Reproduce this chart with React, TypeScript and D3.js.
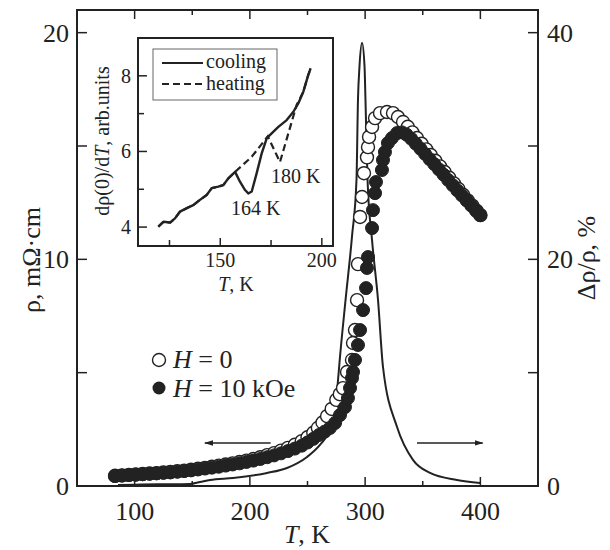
import React from "react";
import * as d3 from "d3";

const W = 610;
const H = 550;
const FONT = "'Liberation Serif', 'Times New Roman', serif";

// rho(T), H = 0 (open circles), [T, rho]
const openPts = [
  [83, 0.45], [89, 0.47], [95, 0.49], [101, 0.51], [107, 0.53], [113, 0.55], [119, 0.57],
  [125, 0.6], [131, 0.62], [137, 0.65], [143, 0.68], [149, 0.72], [155, 0.76], [161, 0.8],
  [167, 0.85], [173, 0.9], [179, 0.95], [185, 1.0], [191, 1.06], [197, 1.12], [203, 1.19],
  [209, 1.27], [215, 1.36], [221, 1.45], [227, 1.56], [233, 1.68], [239, 1.82], [245, 1.98],
  [250, 2.15], [255, 2.35], [259, 2.56], [263, 2.8], [267, 3.08], [271, 3.4], [275, 3.8],
  [278, 4.05], [280.8, 4.32], [284.3, 5.03], [288.6, 5.56], [289.5, 6.31], [291.2, 6.88],
  [293, 8.2], [293.8, 9.79], [295.6, 11.87], [297.3, 12.75], [299, 13.8], [301.6, 14.5],
  [302.5, 14.95], [303.4, 15.4], [306, 15.84], [308.6, 16.23], [312.9, 16.45], [319, 16.5],
  [324.2, 16.45], [328.5, 16.28], [332.9, 16.06], [337, 15.85], [341, 15.6], [345, 15.35],
  [349, 15.1], [353, 14.85], [357, 14.6], [361, 14.35], [365, 14.1], [369, 13.85], [373, 13.6],
  [377, 13.35], [381, 13.1], [385, 12.85], [389, 12.6], [393, 12.37], [397, 12.13], [400, 11.95],
];

// rho(T), H = 10 kOe (filled circles)
const filledPts = [
  [83, 0.44], [89, 0.46], [95, 0.48], [101, 0.5], [107, 0.52], [113, 0.54], [119, 0.56],
  [125, 0.58], [131, 0.6], [137, 0.63], [143, 0.66], [149, 0.69], [155, 0.73], [161, 0.77],
  [167, 0.81], [173, 0.85], [179, 0.9], [185, 0.95], [191, 1.0], [197, 1.06], [203, 1.12],
  [209, 1.19], [215, 1.27], [221, 1.35], [227, 1.44], [233, 1.54], [239, 1.65], [245, 1.78],
  [250, 1.92], [255, 2.08], [260, 2.25], [265, 2.4], [269.5, 2.56], [273.9, 2.78], [278.2, 3.13],
  [282.5, 3.48], [285.1, 3.88], [286.9, 4.32], [288.6, 4.76], [289.5, 5.03], [291.2, 5.56],
  [293.8, 6.22], [295.6, 6.88], [298.2, 7.76], [300.8, 8.73], [301.6, 9.62], [302.5, 10.1],
  [306, 11.38], [306.8, 12.17], [308.6, 12.92], [309.4, 13.41], [314.6, 13.94], [315.5, 14.38],
  [317.2, 14.73], [319.8, 15.13], [323.3, 15.35], [327.7, 15.57], [332, 15.6], [336, 15.5],
  [340, 15.32], [344, 15.1], [348, 14.88], [352, 14.65], [356, 14.42], [360, 14.2], [364, 13.97],
  [368, 13.74], [372, 13.5], [376, 13.27], [380, 13.04], [384, 12.82], [388, 12.6], [392, 12.38],
  [396, 12.16], [400, 11.95],
];

// magnetoresistance drho/rho, % (solid line, right axis)
const mrPts = [
  [85.6, 0.09], [100, 0.12], [120, 0.15], [148, 0.18], [156.7, 0.35], [165.4, 0.53],
  [185.4, 0.71], [214.9, 1.15], [232.2, 1.59], [249.6, 2.56], [260.8, 3.62], [269.5, 4.94],
  [273.9, 6.44], [276.5, 9.36], [278.2, 11.39], [283, 16.4], [288.6, 22], [292.5, 27],
  [293.8, 34.1], [295.1, 37], [297.3, 39.1], [299.5, 37], [300.3, 34.1], [302.1, 27],
  [306, 21.7], [311.2, 16.4], [315.5, 10.5], [327.7, 5.2], [341.5, 2.3], [356.3, 1.15],
  [379.7, 0.53], [399.7, 0.26],
];

// inset: d rho(0)/dT
const coolPts = [
  [119.5, 4.01], [122, 4.14], [125.3, 4.12], [127.7, 4.23], [130.2, 4.41], [133.5, 4.5],
  [136.7, 4.58], [140, 4.72], [143.3, 4.85], [145.8, 5.03], [149, 5.07], [151.5, 5.11],
  [154, 5.29], [157.3, 5.46], [159.7, 5.2], [162.2, 4.98], [163.8, 4.89], [165.5, 4.94],
  [167.9, 5.42], [170.4, 5.95], [172.9, 6.35], [175.3, 6.48], [178.6, 6.65], [182.7, 6.83],
  [186, 7.05], [188.4, 7.27], [190.9, 7.58], [193.3, 8.02], [194.5, 8.2],
];
const heatPts = [
  [119.5, 4.01], [122, 4.14], [125.3, 4.12], [127.7, 4.23], [130.2, 4.41], [133.5, 4.5],
  [136.7, 4.58], [140, 4.72], [143.3, 4.85], [145.8, 5.03], [149, 5.07], [151.5, 5.11],
  [154, 5.29], [157.3, 5.46], [165.5, 5.86], [173.4, 6.4], [179.4, 5.72], [187.6, 7.23],
  [190.9, 7.58], [193.3, 8.02], [194.5, 8.2],
];

const xMajor = [100, 200, 300, 400];
const xMinor = [150, 250, 350];
const leftMajor = [0, 10, 20];
const leftMinor = [5, 15];
const rightMajor = [0, 20, 40];
const rightMinor = [10, 30];
const insetXMajor = [150, 200];
const insetXMinor = [125, 175];
const insetYMajor = [4, 6, 8];
const insetYMinor = [5, 7];

export default function App() {
  const x = d3.scaleLinear().domain([50, 450]).range([77, 538]);
  const yL = d3.scaleLinear().domain([0, 21]).range([486, 10]);
  const yR = d3.scaleLinear().domain([0, 42]).range([486, 10]);
  const ix = d3.scaleLinear().domain([109.5, 205.5]).range([138, 333]);
  const iy = d3.scaleLinear().domain([3.5, 9]).range([246, 38]);

  const mrLine = d3
    .line<number[]>()
    .x((d) => x(d[0]))
    .y((d) => yR(d[1]))
    .curve(d3.curveMonotoneX);
  const insetLine = d3
    .line<number[]>()
    .x((d) => ix(d[0]))
    .y((d) => iy(d[1]));

  const [x0, x1] = x.range();
  const [yb, yt] = yL.range();
  const [ix0, ix1] = ix.range();
  const [iyb, iyt] = iy.range();

  return (
    <svg
      width={W}
      height={H}
      style={{ position: "absolute", left: 0, top: 0, background: "#fff" }}
      fontFamily={FONT}
    >
      <defs>
        <marker id="ah" viewBox="0 0 10 10" refX="9" refY="5" markerWidth="9" markerHeight="9" orient="auto-start-reverse" markerUnits="userSpaceOnUse">
          <path d="M0,2 L10,5 L0,8 Z" fill="#222" />
        </marker>
      </defs>

      {/* main frame */}
      <rect x={x0} y={yt} width={x1 - x0} height={yb - yt} fill="none" stroke="#222" strokeWidth={2} />

      {/* x ticks top and bottom */}
      {xMajor.map((v) => (
        <g key={"xm" + v}>
          <line x1={x(v)} x2={x(v)} y1={yb} y2={yb - 9} stroke="#222" strokeWidth={1.5} />
          <line x1={x(v)} x2={x(v)} y1={yt} y2={yt + 9} stroke="#222" strokeWidth={1.5} />
          <text x={x(v)} y={520} fontSize={26} textAnchor="middle" fill="#222">{v}</text>
        </g>
      ))}
      {xMinor.map((v) => (
        <g key={"xn" + v}>
          <line x1={x(v)} x2={x(v)} y1={yb} y2={yb - 5} stroke="#222" strokeWidth={1.5} />
          <line x1={x(v)} x2={x(v)} y1={yt} y2={yt + 5} stroke="#222" strokeWidth={1.5} />
        </g>
      ))}

      {/* left axis */}
      {leftMajor.map((v) => (
        <g key={"lm" + v}>
          <line x1={x0} x2={x0 + 10} y1={yL(v)} y2={yL(v)} stroke="#222" strokeWidth={1.5} />
          <text x={69} y={yL(v) + 9} fontSize={26} textAnchor="end" fill="#222">{v}</text>
        </g>
      ))}
      {leftMinor.map((v) => (
        <line key={"ln" + v} x1={x0} x2={x0 + 10} y1={yL(v)} y2={yL(v)} stroke="#222" strokeWidth={1.5} />
      ))}

      {/* right axis */}
      {rightMajor.map((v) => (
        <g key={"rm" + v}>
          <line x1={x1} x2={x1 - 10} y1={yR(v)} y2={yR(v)} stroke="#222" strokeWidth={1.5} />
          <text x={547} y={yR(v) + 9} fontSize={26} textAnchor="start" fill="#222">{v}</text>
        </g>
      ))}
      {rightMinor.map((v) => (
        <line key={"rn" + v} x1={x1} x2={x1 - 10} y1={yR(v)} y2={yR(v)} stroke="#222" strokeWidth={1.5} />
      ))}

      {/* axis titles */}
      <text x={307} y={543} fontSize={26} textAnchor="middle" fill="#222">
        <tspan fontStyle="italic">T</tspan>, K
      </text>
      <text transform="translate(40,260) rotate(-90)" fontSize={26} textAnchor="middle" fill="#222">
        ρ, mΩ·cm
      </text>
      <text transform="translate(595,258) rotate(-90)" fontSize={26} textAnchor="middle" fill="#222">
        Δρ/ρ, %
      </text>

      {/* magnetoresistance */}
      <path d={mrLine(mrPts) || ""} fill="none" stroke="#222" strokeWidth={2} />

      {/* data circles */}
      {openPts.map((d, i) => (
        <circle key={"o" + i} cx={x(d[0])} cy={yL(d[1])} r={6.5} fill="#fff" stroke="#222" strokeWidth={1.4} />
      ))}
      {filledPts.map((d, i) => (
        <circle key={"f" + i} cx={x(d[0])} cy={yL(d[1])} r={6.5} fill="#222" stroke="#222" strokeWidth={1} />
      ))}

      {/* arrows */}
      <line x1={x(218)} x2={x(161)} y1={yL(1.9)} y2={yL(1.9)} stroke="#222" strokeWidth={1.5} markerEnd="url(#ah)" />
      <line x1={x(345)} x2={x(402)} y1={yL(1.9)} y2={yL(1.9)} stroke="#222" strokeWidth={1.5} markerEnd="url(#ah)" />

      {/* legend */}
      <circle cx={159} cy={360} r={6.5} fill="#fff" stroke="#222" strokeWidth={1.4} />
      <text x={173} y={368} fontSize={26} fill="#222">
        <tspan fontStyle="italic">H</tspan> = 0
      </text>
      <circle cx={159} cy={388} r={6.5} fill="#222" />
      <text x={173} y={397} fontSize={26} fill="#222">
        <tspan fontStyle="italic">H</tspan> = 10 kOe
      </text>

      {/* inset */}
      <rect x={ix0} y={iyt} width={ix1 - ix0} height={iyb - iyt} fill="#fff" stroke="#222" strokeWidth={2} />
      {insetXMajor.map((v) => (
        <g key={"ixm" + v}>
          <line x1={ix(v)} x2={ix(v)} y1={iyb} y2={iyb - 8} stroke="#222" strokeWidth={1.5} />
          <text x={ix(v)} y={267} fontSize={20} textAnchor="middle" fill="#222">{v}</text>
        </g>
      ))}
      {insetXMinor.map((v) => (
        <line key={"ixn" + v} x1={ix(v)} x2={ix(v)} y1={iyb} y2={iyb - 6} stroke="#222" strokeWidth={1.5} />
      ))}
      {insetYMajor.map((v) => (
        <g key={"iym" + v}>
          <line x1={ix0} x2={ix0 + 9} y1={iy(v)} y2={iy(v)} stroke="#222" strokeWidth={1.5} />
          <text x={131} y={iy(v) + 7} fontSize={20} textAnchor="end" fill="#222">{v}</text>
        </g>
      ))}
      {insetYMinor.map((v) => (
        <line key={"iyn" + v} x1={ix0} x2={ix0 + 6} y1={iy(v)} y2={iy(v)} stroke="#222" strokeWidth={1.5} />
      ))}
      <text x={236} y={291} fontSize={20} textAnchor="middle" fill="#222">
        <tspan fontStyle="italic">T</tspan>, K
      </text>
      <text transform="translate(109,141) rotate(-90)" fontSize={20} textAnchor="middle" fill="#222">
        dρ(0)/d<tspan fontStyle="italic">T</tspan>, arb.units
      </text>

      <path d={insetLine(coolPts) || ""} fill="none" stroke="#222" strokeWidth={2.4} strokeLinejoin="round" />
      <path d={insetLine(heatPts) || ""} fill="none" stroke="#222" strokeWidth={2.2} strokeDasharray="7,4" />

      <text x={231} y={215} fontSize={20} fill="#222">164 K</text>
      <text x={271} y={183} fontSize={20} fill="#222">180 K</text>

      {/* inset legend */}
      <rect x={153} y={49} width={124} height={51} fill="#fff" stroke="#666" strokeWidth={1} />
      <line x1={162} x2={203} y1={63} y2={63} stroke="#222" strokeWidth={2} />
      <text x={206} y={68} fontSize={20} fill="#222">cooling</text>
      <line x1={162} x2={203} y1={84} y2={84} stroke="#222" strokeWidth={2} strokeDasharray="7,4" />
      <text x={206} y={90} fontSize={20} fill="#222">heating</text>
    </svg>
  );
}
